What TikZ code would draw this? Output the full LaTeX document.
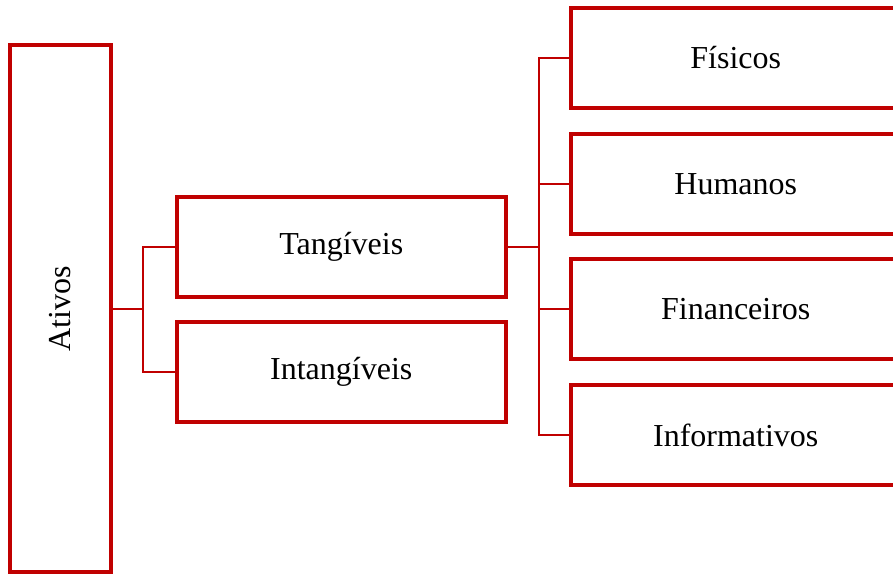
\documentclass[tikz,border=0pt]{standalone}
\usepackage{fontspec}
\setmainfont{Liberation Serif}
\definecolor{boxred}{HTML}{C00000}
\begin{document}
\begin{tikzpicture}[x=0.75pt,y=-0.75pt,
  label font/.style={font=\fontsize{24}{29}\selectfont},
  box/.style={draw=boxred, line width=3pt, fill=white, inner sep=0pt,
    label font, text=black},
  widebox/.style={box, minimum width=246.4pt, minimum height=75pt},
  link/.style={draw=boxred, line width=1.6pt}]
  \useasboundingbox (0,0) rectangle (893,574);

  % root
  \node[box, minimum width=75.4pt, minimum height=394.9pt] (ativos) at (60.25,308.75) {};
  \node[rotate=90, label font] (ativoslbl) at (ativos.center) {Ativos};

  % first level
  \node[widebox] (tang) at (341.25,246.75) {Tangíveis};
  \node[widebox] (intang) at (341.25,371.75) {Intangíveis};

  % second level
  \node[widebox] (fis) at (735.75,58) {Físicos};
  \node[widebox] (hum) at (735.75,183.7) {Humanos};
  \node[widebox] (fin) at (735.75,309.3) {Financeiros};
  \node[widebox] (inf) at (735.75,435) {Informativos};

  % connectors
  \coordinate (j1) at (143,308.75);
  \coordinate (j2) at (539,246.75);
  \draw[link] (ativos.east) -- (j1);
  \draw[link] (tang.west) -| (j1) |- (intang.west);
  \draw[link] (tang.east) -- (j2);
  \draw[link] (fis.west) -| (j2) |- (inf.west);
  \draw[link] (hum.west) -- (hum.west -| j2);
  \draw[link] (fin.west) -- (fin.west -| j2);
\end{tikzpicture}
\end{document}
